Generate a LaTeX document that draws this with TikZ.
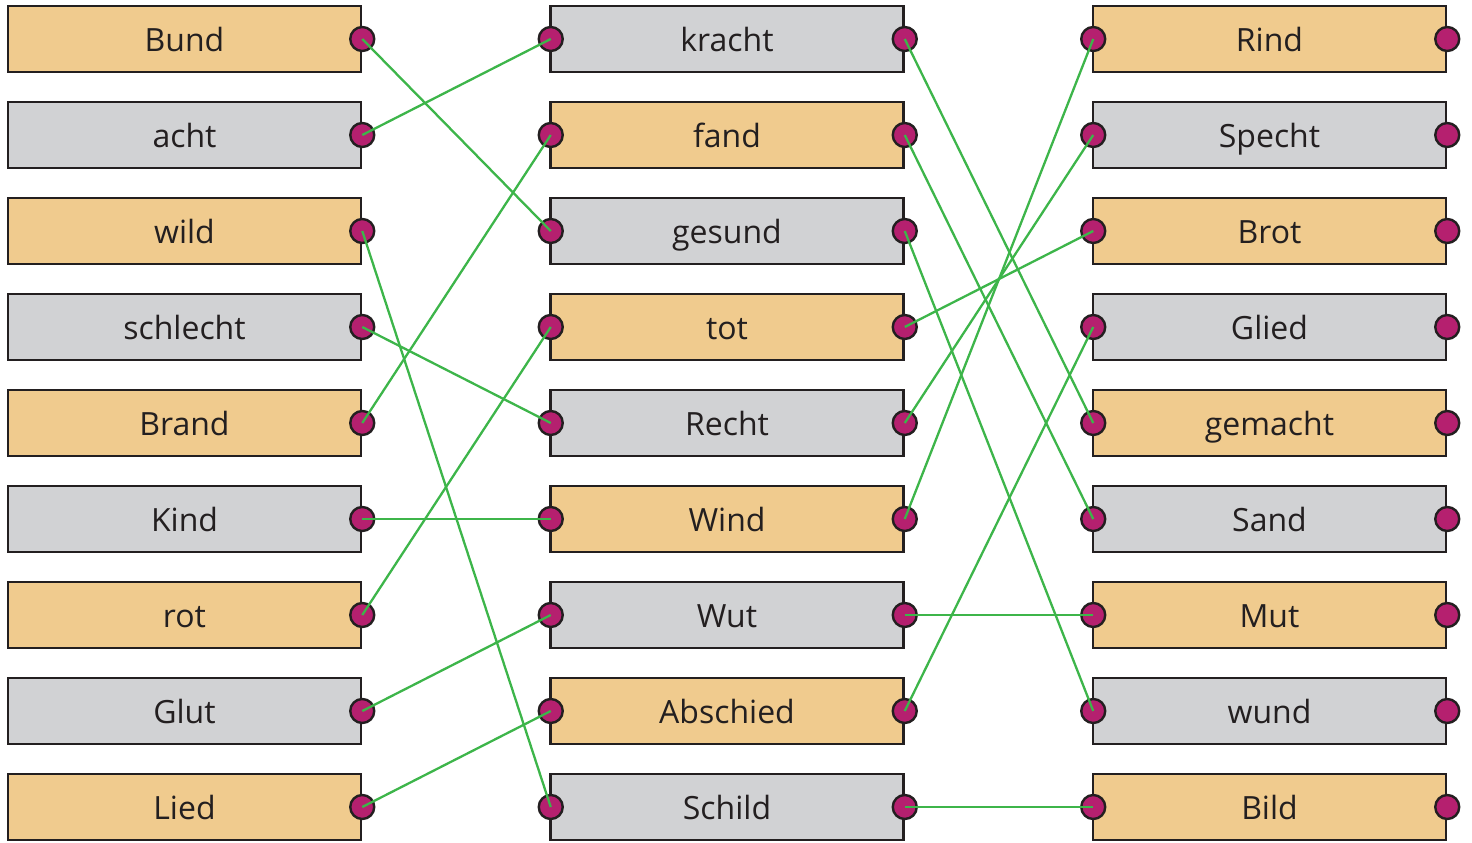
\documentclass[tikz,border=0pt]{standalone}
\usepackage{fontspec}
\setmainfont{Open Sans}
\definecolor{orng}{HTML}{F0CB8E}
\definecolor{gry}{HTML}{D1D2D4}
\definecolor{mag}{HTML}{B5206F}
\definecolor{grn}{HTML}{3DB54A}
\definecolor{edge}{HTML}{231F20}
\begin{document}
\begin{tikzpicture}[x=1pt,y=-1pt,
  wordbox/.style={draw=edge,line width=2.5pt,minimum width=353pt,minimum height=66pt,inner sep=0pt},
  ob/.style={wordbox,fill=orng},
  gb/.style={wordbox,fill=gry},
  word/.style={inner sep=0pt,text height=23pt,text depth=0pt,font=\fontsize{32}{32}\selectfont,text=edge},
  dot/.style={circle,draw=edge,line width=2.4pt,fill=mag,minimum size=24pt,inner sep=0pt},
  link/.style={draw=grn,line width=2.3pt}]
\useasboundingbox (0,0) rectangle (1472,843);
\def\lista{Bund/ob,acht/gb,wild/ob,schlecht/gb,Brand/ob,Kind/gb,rot/ob,Glut/gb,Lied/ob}
\def\listb{kracht/gb,fand/ob,gesund/gb,tot/ob,Recht/gb,Wind/ob,Wut/gb,Abschied/ob,Schild/gb}
\def\listc{Rind/ob,Specht/gb,Brot/ob,Glied/gb,gemacht/ob,Sand/gb,Mut/ob,wund/gb,Bild/ob}
\foreach \w/\s [count=\i from 0] in \lista {
  \node[\s] (a\i) at (184.5,{39+96*\i}) {};
  \node[word] (ta\i) at (184.5,{40+96*\i}) {\w};
}
\foreach \w/\s [count=\i from 0] in \listb {
  \node[\s] (b\i) at (727,{39+96*\i}) {};
  \node[word] (tb\i) at (727,{40+96*\i}) {\w};
}
\foreach \w/\s [count=\i from 0] in \listc {
  \node[\s] (c\i) at (1269.5,{39+96*\i}) {};
  \node[word] (tc\i) at (1269.5,{40+96*\i}) {\w};
}
\foreach \i in {0,...,8} {
  \node[dot] (ar\i) at (a\i.east) {};
  \node[dot] (bl\i) at ([xshift=1.5pt]b\i.west) {};
  \node[dot] (br\i) at (b\i.east) {};
  \node[dot] (cl\i) at ([xshift=1.5pt]c\i.west) {};
  \node[dot] (cr\i) at (c\i.east) {};
}
% links left -> middle
\foreach \p/\q in {0/2,1/0,2/8,3/4,4/1,5/5,6/3,7/6,8/7} {
  \draw[link] (ar\p.center) -- (bl\q.center);
}
% links middle -> right
\foreach \p/\q in {0/4,1/5,2/7,3/2,4/1,5/0,6/6,7/3,8/8} {
  \draw[link] (br\p.center) -- (cl\q.center);
}
\end{tikzpicture}
\end{document}
